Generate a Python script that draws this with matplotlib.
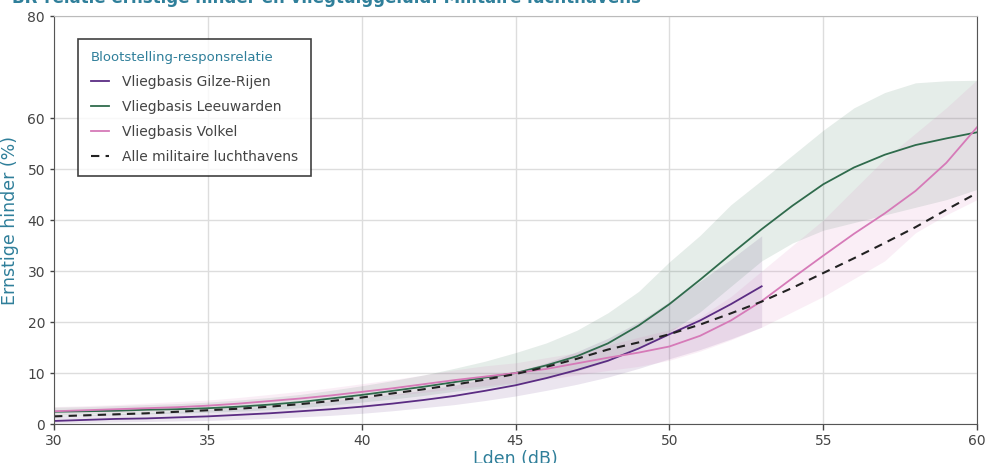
import numpy as np
import matplotlib
matplotlib.use("Agg")
import matplotlib.pyplot as plt

# Lden (dB)
lden = list(range(30, 61))
lden_gr = list(range(30, 54))

# ernstige hinder (%) per vliegbasis
gilze_rijen = [0.6, 0.8, 1.0, 1.1, 1.3, 1.5, 1.8, 2.1, 2.5, 2.9, 3.4, 4.0,
               4.7, 5.5, 6.5, 7.6, 9.0, 10.6, 12.4, 14.8, 17.6, 20.3, 23.5, 27.0]
gilze_lo = [0.2, 0.3, 0.4, 0.5, 0.6, 0.7, 0.9, 1.1, 1.4, 1.7, 2.1, 2.6,
            3.2, 3.8, 4.6, 5.5, 6.6, 7.8, 9.2, 10.9, 12.8, 14.6, 16.7, 19.0]
gilze_hi = [1.6, 1.8, 2.0, 2.2, 2.5, 2.8, 3.1, 3.5, 4.0, 4.5, 5.1, 5.8,
            6.6, 7.6, 8.8, 10.2, 12.0, 14.2, 16.8, 20.0, 24.0, 28.0, 32.3, 36.9]

leeuwarden = [2.4, 2.5, 2.6, 2.8, 2.9, 3.1, 3.4, 3.8, 4.3, 5.0, 5.7, 6.5,
              7.3, 8.2, 9.1, 10.0, 11.5, 13.3, 15.8, 19.3, 23.5, 28.3, 33.3,
              38.2, 42.8, 47.0, 50.3, 52.8, 54.7, 56.0, 57.2]
leeuw_lo = [1.6, 1.7, 1.8, 2.0, 2.1, 2.3, 2.5, 2.8, 3.2, 3.7, 4.3, 4.9,
            5.6, 6.4, 7.1, 7.9, 9.0, 10.4, 12.3, 15.0, 18.0, 22.0, 27.0,
            32.0, 35.5, 38.0, 39.5, 41.0, 42.5, 44.0, 46.0]
leeuw_hi = [3.3, 3.4, 3.6, 3.8, 4.0, 4.3, 4.7, 5.2, 5.8, 6.6, 7.5, 8.5,
            9.6, 10.9, 12.3, 14.0, 15.9, 18.4, 21.8, 26.0, 31.8, 37.0, 43.0,
            47.8, 52.7, 57.6, 62.0, 65.0, 66.9, 67.3, 67.4]

volkel = [2.5, 2.7, 2.9, 3.1, 3.3, 3.6, 4.0, 4.5, 5.0, 5.6, 6.3, 7.0,
          7.8, 8.6, 9.3, 10.0, 10.8, 11.9, 13.0, 14.0, 15.2, 17.3, 20.3,
          24.1, 28.6, 33.0, 37.3, 41.3, 45.7, 51.2, 58.2]
volkel_lo = [1.8, 2.0, 2.2, 2.4, 2.6, 2.8, 3.1, 3.5, 3.9, 4.4, 5.0, 5.6,
             6.2, 6.9, 7.5, 8.1, 8.8, 9.6, 10.5, 11.3, 12.5, 14.3, 16.5,
             19.0, 22.0, 25.0, 28.5, 32.0, 37.5, 41.0, 44.0]
volkel_hi = [3.4, 3.6, 3.8, 4.1, 4.4, 4.7, 5.2, 5.8, 6.4, 7.1, 7.9, 8.7,
             9.6, 10.6, 11.4, 12.0, 13.0, 14.0, 15.5, 17.0, 18.5, 21.0, 25.0,
             30.0, 35.0, 40.0, 46.0, 52.0, 57.0, 62.0, 67.5]

alle = [1.5, 1.7, 1.9, 2.1, 2.4, 2.7, 3.0, 3.4, 3.9, 4.5, 5.2, 6.0, 6.8,
        7.7, 8.7, 9.8, 11.2, 12.8, 14.6, 16.0, 17.6, 19.5, 21.7, 24.0,
        26.7, 29.6, 32.5, 35.5, 38.6, 42.0, 45.3]

teal = "#2f7f9a"
series = [
    ("Vliegbasis Gilze-Rijen", lden_gr, gilze_rijen, gilze_lo, gilze_hi, "#5b2c83"),
    ("Vliegbasis Leeuwarden", lden, leeuwarden, leeuw_lo, leeuw_hi, "#2f6b4c"),
    ("Vliegbasis Volkel", lden, volkel, volkel_lo, volkel_hi, "#d67ab8"),
]

plt.rcParams["font.family"] = ["DejaVu Sans"]
fig = plt.figure(figsize=(9.86, 4.63), dpi=100)
ax = fig.add_axes([0.0548, 0.0842, 0.9361, 0.8812])

for name, x, y, lo, hi, col in series:
    ax.fill_between(x, lo, hi, color=col, alpha=0.12, linewidth=0)
for name, x, y, lo, hi, col in series:
    ax.plot(x, y, color=col, lw=1.3, label=name)
ax.plot(lden, alle, color="#222222", lw=1.5, ls=(0, (4, 3)),
        label="Alle militaire luchthavens")

ax.set_xlim(30, 60)
ax.set_ylim(0, 80)
ax.set_xticks(range(30, 61, 5))
ax.set_yticks([0, 10, 20, 30, 40, 50, 60, 80])
ax.grid(color="#dddddd", lw=1)
ax.set_axisbelow(True)
ax.tick_params(colors="#444444", labelsize=10, length=4, width=1)
ax.tick_params(axis="y", length=3)
for s in ["left", "bottom", "right"]:
    ax.spines[s].set_color("#555555")
ax.spines["top"].set_color("#bbbbbb")

ax.set_ylabel("Ernstige hinder (%)", color=teal, fontsize=12.5)
ax.yaxis.set_label_coords(-0.038, 0.5)
ax.set_xlabel("Lden (dB)", color=teal, fontsize=12.5, labelpad=1)

leg = ax.legend(title="Blootstelling-responsrelatie", loc="upper left",
                bbox_to_anchor=(0.026, 0.944), borderaxespad=0,
                fontsize=10, frameon=True,
                fancybox=False, edgecolor="#111111", handlelength=1.3,
                handletextpad=1.0, borderpad=0.9, labelspacing=0.78,
                alignment="left")
leg.get_title().set_color(teal)
leg.get_title().set_fontsize(9.5)
leg.get_frame().set_linewidth(1.2)
for t in leg.get_texts():
    t.set_color("#444444")

fig.text(0.012, 1 - 3 / 463,
         "BR-relatie ernstige hinder en vliegtuiggeluid: Militaire luchthavens",
         color=teal, fontsize=12, fontweight="bold", va="baseline")

fig.savefig("out.png", dpi=100)
